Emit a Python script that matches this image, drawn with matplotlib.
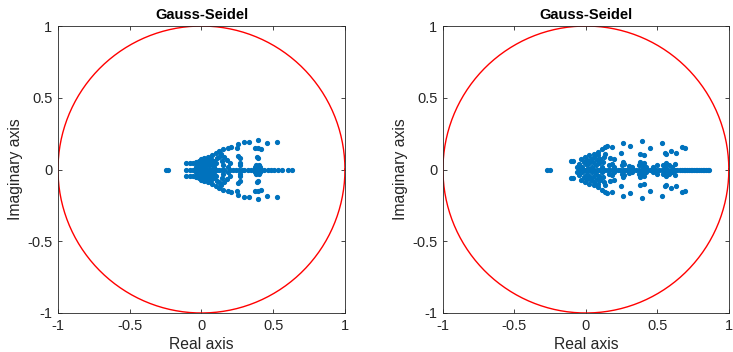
import numpy as np
import matplotlib.pyplot as plt

plt.rcParams['font.family'] = ['Liberation Sans', 'DejaVu Sans']

# eigenvalues of the iteration matrices (complex ones stored with Im > 0,
# their conjugates are plotted as well)
real_left = [-0.245, -0.232, -0.105, -0.08, -0.06, -0.04, -0.025, -0.01, 0.0, 0.01,
             0.02, 0.035, 0.05, 0.065, 0.08, 0.095, 0.11, 0.125, 0.14, 0.16,
             0.2, 0.22, 0.24, 0.261, 0.28, 0.298, 0.322, 0.345, 0.368, 0.385,
             0.401, 0.415, 0.438, 0.461, 0.484, 0.507, 0.531, 0.559, 0.601, 0.629]
cplx_left = [(-0.108, 0.043), (-0.08, 0.043), (-0.057, 0.043), (-0.035, 0.05),
             (-0.04, 0.02), (-0.03, 0.035), (-0.02, 0.06), (-0.01, 0.015), (-0.005, 0.045),
             (0.0, 0.07), (0.01, 0.03), (0.015, 0.055), (0.02, 0.08), (0.025, 0.012),
             (0.03, 0.04), (0.04, 0.065), (0.045, 0.09), (0.05, 0.025), (0.055, 0.05),
             (0.065, 0.075), (0.07, 0.035), (0.075, 0.1), (0.085, 0.06), (0.09, 0.02),
             (0.1, 0.045), (0.105, 0.08), (0.1, 0.113), (0.124, 0.129), (0.152, 0.143),
             (0.187, 0.152), (0.203, 0.159), (0.14, 0.06), (0.15, 0.03), (0.175, 0.065),
             (0.2, 0.045), (0.185, 0.02), (0.16, 0.085), (0.12, 0.09), (0.135, 0.11),
             (0.245, 0.15), (0.258, 0.178), (0.298, 0.19), (0.331, 0.19), (0.396, 0.206),
             (0.454, 0.183), (0.524, 0.194), (0.373, 0.148), (0.396, 0.152), (0.415, 0.143),
             (0.268, 0.082), (0.257, 0.094), (0.385, 0.089), (0.396, 0.082), (0.27, 0.045),
             (0.27, 0.028), (0.38, 0.03), (0.4, 0.03), (0.375, 0.015), (0.405, 0.015)]

real_right = [-0.27, -0.252, -0.05, -0.03, -0.015, 0.0, 0.015, 0.03, 0.045, 0.06,
              0.075, 0.09, 0.105, 0.12, 0.134, 0.155, 0.17, 0.19, 0.205, 0.225,
              0.24, 0.26, 0.275, 0.29, 0.31, 0.33, 0.35, 0.37, 0.39, 0.41,
              0.43, 0.45, 0.47, 0.49, 0.51, 0.53, 0.55, 0.575, 0.6, 0.62,
              0.64, 0.66, 0.672, 0.684, 0.696, 0.708, 0.72, 0.732, 0.744, 0.756,
              0.768, 0.78, 0.792, 0.804, 0.816, 0.828, 0.84, 0.852, 0.862]
cplx_right = [(-0.105, 0.061), (-0.09, 0.061), (-0.064, 0.02),
              (-0.045, 0.04), (-0.035, 0.075), (-0.025, 0.02), (-0.015, 0.055),
              (-0.005, 0.09), (0.0, 0.035), (0.01, 0.065), (0.015, 0.012), (0.02, 0.1),
              (0.025, 0.045), (0.035, 0.075), (0.04, 0.02), (0.05, 0.055), (0.055, 0.11),
              (0.06, 0.085), (0.07, 0.03), (0.075, 0.065), (0.085, 0.1), (0.09, 0.045),
              (0.1, 0.075), (0.11, 0.02), (0.12, 0.055), (0.13, 0.09),
              (0.087, 0.124), (0.11, 0.141), (0.134, 0.159), (0.145, 0.164), (0.134, 0.108),
              (0.18, 0.155), (0.257, 0.187), (0.312, 0.164), (0.396, 0.201), (0.452, 0.148),
              (0.243, 0.117), (0.382, 0.108), (0.405, 0.103), (0.261, 0.055), (0.382, 0.055),
              (0.405, 0.047), (0.16, 0.03), (0.18, 0.04), (0.2, 0.02), (0.25, 0.03),
              (0.27, 0.035), (0.3, 0.025), (0.32, 0.02), (0.37, 0.03), (0.39, 0.025),
              (0.42, 0.02), (0.47, 0.02), (0.5, 0.03), (0.17, 0.08), (0.2, 0.07),
              (0.535, 0.183), (0.552, 0.113), (0.563, 0.108), (0.598, 0.131), (0.628, 0.117),
              (0.675, 0.155), (0.691, 0.148), (0.563, 0.047), (0.54, 0.03), (0.58, 0.03),
              (0.6, 0.015), (0.62, 0.035), (0.55, 0.015)]

ticks = [-1, -0.5, 0, 0.5, 1]
tick_labels = ['-1', '-0.5', '0', '0.5', '1']

blue = '#0072BD'
dark = '#262626'

fig = plt.figure(figsize=(7.33, 3.52), dpi=100)
ax1 = fig.add_axes([0.0791, 0.1108, 0.3915, 0.8153])
ax2 = fig.add_axes([0.6043, 0.1108, 0.3900, 0.8153])

th = np.linspace(0, 2 * np.pi, 400)


def eigplot(ax, re, cplx):
    c = np.array(cplx)
    xs = np.concatenate([re, c[:, 0], c[:, 0]])
    ys = np.concatenate([np.zeros(len(re)), c[:, 1], -c[:, 1]])
    ax.plot(np.cos(th), np.sin(th), color='red', lw=1.0)
    ax.plot(xs, ys, '.', color=blue, ms=5.5)
    ax.set_xlim(-1, 1); ax.set_ylim(-1, 1)
    ax.set_xticks(ticks); ax.set_xticklabels(tick_labels)
    ax.set_yticks(ticks); ax.set_yticklabels(tick_labels)
    ax.tick_params(direction='in', length=3, width=0.6, colors=dark, labelsize=10.5,
                   top=True, right=True, pad=4)
    for s in ax.spines.values():
        s.set_color(dark); s.set_linewidth(0.6)
    ax.set_title('Gauss-Seidel', fontsize=10.5, fontweight='bold', pad=5)
    ax.set_xlabel('Real axis', fontsize=11.3, color=dark, labelpad=3)
    ax.set_ylabel('Imaginary axis', fontsize=11.3, color=dark, labelpad=3)


eigplot(ax1, real_left, cplx_left)
eigplot(ax2, real_right, cplx_right)

fig.savefig('out.png', dpi=100)
